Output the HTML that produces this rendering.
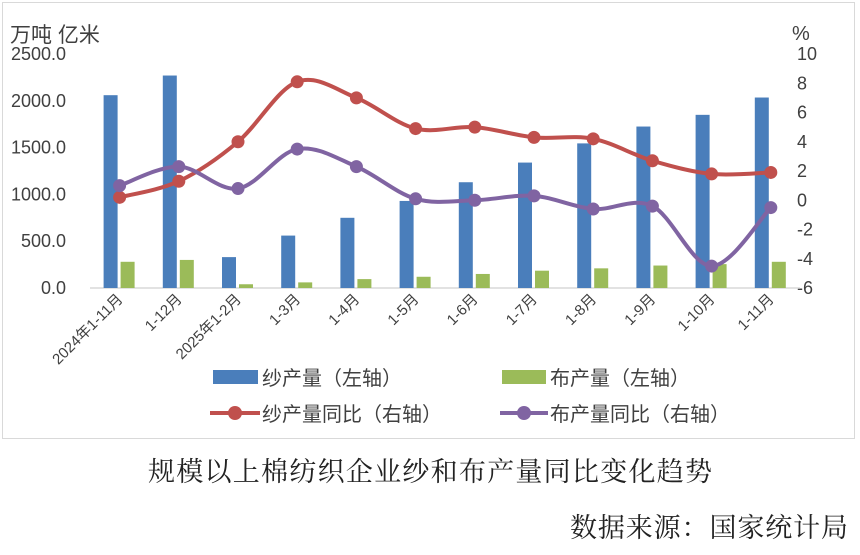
<!DOCTYPE html>
<html><head><meta charset="utf-8"><style>
body{margin:0;background:#fff;width:860px;height:550px;overflow:hidden}
svg text{font-family:"Liberation Sans","Noto Sans CJK SC",sans-serif}
svg text.serif{font-family:"Liberation Serif","Noto Serif CJK SC",serif}
</style></head><body>
<svg id="s" width="860" height="550" xmlns="http://www.w3.org/2000/svg">
<rect x="2.5" y="2.5" width="852" height="436" fill="#fff" stroke="#d9d9d9"/>
<text x="10" y="42" font-size="21" fill="#404040">万吨 亿米</text>
<text x="792" y="40" font-size="20" fill="#404040">%</text>
<g font-size="18" fill="#404040" text-anchor="end" id="ly"></g>
<g font-size="18" fill="#404040" text-anchor="start" id="ry"></g>
<line x1="90" y1="288" x2="800" y2="288" stroke="#d9d9d9" stroke-width="1.5"/>
<g id="bars"></g><g id="lines"></g><g id="xl" font-size="15" fill="#404040"></g>
<rect x="213" y="370" width="45" height="14" fill="#4a7ebb"/>
<text x="262" y="385" font-size="20" fill="#404040">纱产量（左轴）</text>
<rect x="502" y="370" width="44" height="14" fill="#9bbb59"/>
<text x="550" y="385" font-size="20" fill="#404040">布产量（左轴）</text>
<line x1="210" y1="413" x2="260" y2="413" stroke="#c0504d" stroke-width="4"/>
<circle cx="235" cy="413" r="7" fill="#c0504d"/>
<text x="262" y="421" font-size="20" fill="#404040">纱产量同比（右轴）</text>
<line x1="500" y1="413" x2="548" y2="413" stroke="#8064a2" stroke-width="4"/>
<circle cx="524" cy="413" r="7" fill="#8064a2"/>
<text x="550" y="421" font-size="20" fill="#404040">布产量同比（右轴）</text>
<text class="serif" x="430" y="481" font-size="27" fill="#222" text-anchor="middle" textLength="564">规模以上棉纺织企业纱和布产量同比变化趋势</text>
<text class="serif" x="848" y="537" font-size="27" fill="#222" text-anchor="end" textLength="278">数据来源：国家统计局</text>
</svg>
<script>
const NS="http://www.w3.org/2000/svg";
function el(p,t,a,txt){const e=document.createElementNS(NS,t);for(const k in a)e.setAttribute(k,a[k]);if(txt!=null)e.textContent=txt;document.getElementById(p).appendChild(e);return e;}
const yL=v=>288-v*234/2500, yR=v=>288-(v+6)*14.625, cx=i=>119.6+59.2*i;
for(let v=0;v<=2500;v+=500)el("ly","text",{x:66,y:yL(v)+6},v.toFixed(1));
for(let v=-6;v<=10;v+=2)el("ry","text",{x:797,y:yR(v)+6},v);
const B=[2060,2270,330,560,750,930,1130,1340,1545,1725,1850,2035];
const G=[280,300,40,60,95,120,150,185,210,240,255,280];
const R=[0.2,1.3,4.0,8.1,7.0,4.9,5.0,4.3,4.2,2.7,1.8,1.9];
const P=[1.0,2.3,0.8,3.5,2.3,0.1,0.0,0.3,-0.6,-0.4,-4.5,-0.5];
const L=["2024年1-11月","1-12月","2025年1-2月","1-3月","1-4月","1-5月","1-6月","1-7月","1-8月","1-9月","1-10月","1-11月"];
for(let i=0;i<12;i++){
el("bars","rect",{x:cx(i)-16,y:yL(B[i]),width:14,height:288-yL(B[i]),fill:"#4a7ebb"});
el("bars","rect",{x:cx(i)+1,y:yL(G[i]),width:14,height:288-yL(G[i]),fill:"#9bbb59"});
const x=cx(i)+4,y=300;
el("xl","text",{x:x,y:y,"text-anchor":"end",transform:`rotate(-45 ${x} ${y})`},L[i]);
}
function line(d,c){const pts=d.map((v,i)=>[cx(i),yR(v)]);let s=`M${pts[0]}`;
for(let i=0;i<pts.length-1;i++){const p0=pts[Math.max(0,i-1)],p1=pts[i],p2=pts[i+1],p3=pts[Math.min(pts.length-1,i+2)];
const t=1/6;s+=` C${p1[0]+(p2[0]-p0[0])*t},${p1[1]+(p2[1]-p0[1])*t} ${p2[0]-(p3[0]-p1[0])*t},${p2[1]-(p3[1]-p1[1])*t} ${p2[0]},${p2[1]}`;}
el("lines","path",{d:s,fill:"none",stroke:c,"stroke-width":4});
pts.forEach(p=>el("lines","circle",{cx:p[0],cy:p[1],r:6.5,fill:c}));}
line(R,"#c0504d");line(P,"#8064a2");
</script>
</body></html>
